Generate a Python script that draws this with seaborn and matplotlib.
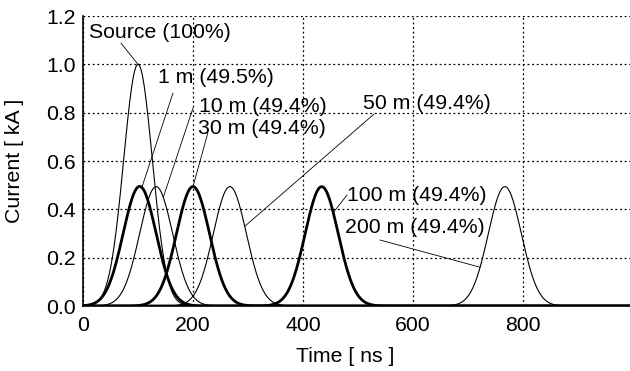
import numpy as np
import pandas as pd
import matplotlib
matplotlib.use("Agg")
import matplotlib.pyplot as plt
import seaborn as sns

# Current pulses observed at the source and at several distances along the line
labels = ["Source (100%)", "1 m (49.5%)", "10 m (49.4%)", "30 m (49.4%)",
          "50 m (49.4%)", "100 m (49.4%)", "200 m (49.4%)"]
peak_ns = [100, 103, 133, 200, 267, 434, 767]
peak_ka = [1.0, 0.495, 0.494, 0.494, 0.494, 0.494, 0.494]
width_ns = [26, 30, 30, 30, 30, 30, 30]
heavy = [False, True, False, True, False, True, False]

# Where each label sits, where its leader line starts, and the time it points at
text_pos = [(11, 1.13), (136, 0.947), (211, 0.827), (209, 0.736),
            (509, 0.836), (480, 0.459), (476, 0.323)]
leader_from = [(69, 1.088), (163.6, 0.881), (200, 0.819), (227, 0.716),
               (529, 0.794), (480, 0.459), (540, 0.273)]
anchor_ns = [100, 107, 146, 200, 294, 455, 722]

x_ticks = [0, 200, 400, 600, 800]
y_ticks = [0.0, 0.2, 0.4, 0.6, 0.8, 1.0, 1.2]

time = np.arange(0, 1001, 1.0)


def pulse(t, i):
    return peak_ka[i] * np.exp(-0.5 * ((t - peak_ns[i]) / width_ns[i]) ** 2)


frames = []
for i, name in enumerate(labels):
    frames.append(pd.DataFrame({"time": time, "current": pulse(time, i), "series": name}))
df = pd.concat(frames, ignore_index=True)

sns.set_style("white")
plt.rcParams["font.family"] = ["Liberation Sans", "DejaVu Sans"]
plt.rcParams["text.color"] = "black"
plt.rcParams["axes.labelcolor"] = "black"

fig = plt.figure(figsize=(6.3, 3.71), dpi=100)
ax = fig.add_axes([83 / 630, 1 - 306 / 371, 550 / 630, 290 / 371])

for i, name in enumerate(labels):
    sub = df[df["series"] == name]
    sns.lineplot(data=sub, x="time", y="current", ax=ax, color="black",
                 linewidth=2.0 if heavy[i] else 0.8, estimator=None, legend=False)

ax.set_xlim(0, 1000)
ax.set_ylim(0, 1.2)
ax.set_xticks(x_ticks)
ax.set_yticks(y_ticks)
ax.set_yticklabels([f"{v:.1f}" for v in y_ticks])
ax.tick_params(axis="both", length=0, labelsize=15.3, colors="black")
ax.tick_params(axis="x", pad=7)
ax.tick_params(axis="y", pad=5)
ax.grid(True, color="black", linestyle=(0, (1.5, 2.2)), linewidth=0.9)

for side in ["left", "bottom"]:
    ax.spines[side].set_color("black")
    ax.spines[side].set_linewidth(1.2)
ax.spines["top"].set_visible(False)
ax.spines["right"].set_visible(False)

ax.set_xlabel("Time [ ns ]", fontsize=15.3, color="black")
ax.set_ylabel("Current [ kA ]", fontsize=15.3, color="black")
ax.xaxis.set_label_coords((345 - 83) / 550, (306 - 347) / 290)
ax.yaxis.set_label_coords((24 - 83) / 550, 0.5)

for i, name in enumerate(labels):
    tx, ty = text_pos[i]
    ax.text(tx, ty, name, fontsize=15.3, ha="left", va="center", color="black")
    ax_t = anchor_ns[i]
    ax.annotate("", xy=(ax_t, pulse(ax_t, i)), xytext=leader_from[i],
                arrowprops=dict(arrowstyle="-", color="black", linewidth=0.6,
                                shrinkA=0, shrinkB=0))

fig.savefig("out.png", dpi=100)
